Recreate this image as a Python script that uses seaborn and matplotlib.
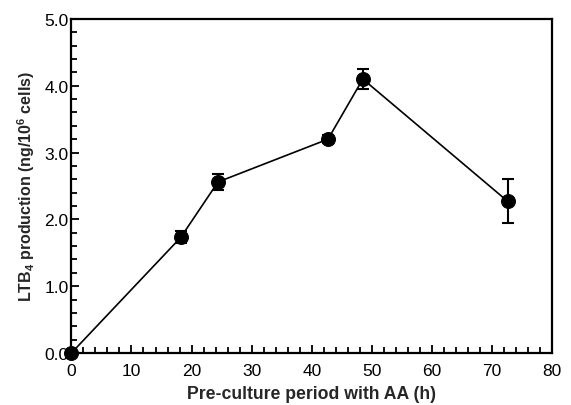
import matplotlib
matplotlib.use("Agg")
import matplotlib.pyplot as plt
import seaborn as sns
import pandas as pd
from matplotlib.ticker import MultipleLocator, FormatStrFormatter

hours = [0, 18.2, 24.4, 42.7, 48.5, 72.6]
ltb4 = [0.0, 1.73, 2.56, 3.20, 4.10, 2.27]
err = [0.0, 0.09, 0.12, 0.06, 0.15, 0.33]

sns.set_style("ticks")
plt.rcParams['font.family'] = ['Liberation Sans', 'DejaVu Sans']
plt.rcParams['mathtext.fontset'] = 'custom'
plt.rcParams['mathtext.rm'] = 'Liberation Sans:bold'
plt.rcParams['mathtext.it'] = 'Liberation Sans:bold'
plt.rcParams['mathtext.bf'] = 'Liberation Sans:bold'
plt.rcParams['mathtext.default'] = 'rm'

df = pd.DataFrame({"h": hours, "v": ltb4, "e": err})

fig = plt.figure(figsize=(5.71, 4.06), dpi=100)
ax = fig.add_axes([0.125, 0.128, 0.842, 0.823])

ax.errorbar(df["h"], df["v"], yerr=df["e"], fmt="none", ecolor="black",
            elinewidth=1.5, capsize=4, capthick=1.5, zorder=4, clip_on=False)
sns.lineplot(data=df, x="h", y="v", ax=ax, color="black", linewidth=1.2,
             marker="o", markersize=10, markeredgecolor="black",
             markerfacecolor="black", zorder=5, clip_on=False)

ax.set_xlim(0, 80)
ax.set_ylim(0, 5.0)
ax.xaxis.set_major_locator(MultipleLocator(10))
ax.xaxis.set_minor_locator(MultipleLocator(2))
ax.yaxis.set_major_locator(MultipleLocator(1.0))
ax.yaxis.set_minor_locator(MultipleLocator(0.2))
ax.yaxis.set_major_formatter(FormatStrFormatter("%.1f"))

ax.tick_params(which="both", direction="in", top=False, right=False,
               width=1.3, colors="black", labelsize=12.5)
ax.tick_params(which="major", length=6)
ax.tick_params(which="minor", length=4)
ax.tick_params(axis="y", which="major", pad=2)
ax.tick_params(axis="x", which="major", pad=7)
for s in ax.spines.values():
    s.set_linewidth(1.6)
    s.set_color("black")

ax.set_xlabel("Pre-culture period with AA (h)", fontsize=12.7, fontweight="bold", labelpad=5.5)
ax.set_ylabel("LTB$_4$ production (ng/10$^6$ cells)", fontsize=11.5, fontweight="bold", labelpad=5)

fig.savefig("out.png", dpi=100)
